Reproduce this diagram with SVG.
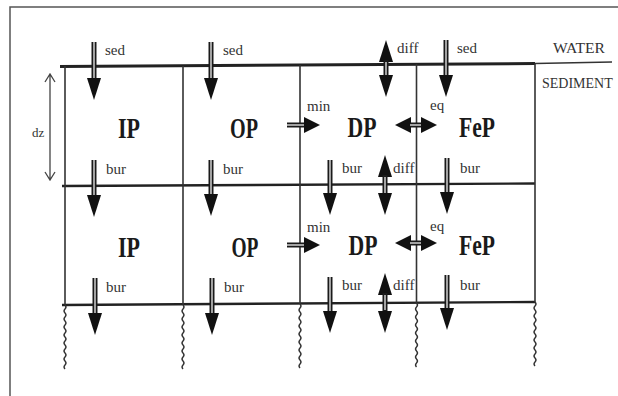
<svg xmlns="http://www.w3.org/2000/svg" xmlns:xlink="http://www.w3.org/1999/xlink" width="618" height="396" viewBox="0 0 618 396">
  <style>
    .frame { fill: none; stroke: #555; stroke-width: 1.5; }
    .grid { fill: none; stroke: #333; stroke-width: 1.6; }
    .thick { fill: none; stroke: #222; stroke-width: 3; }
    .wave { fill: none; stroke: #333; stroke-width: 1.4; }
    .shaft { fill: none; stroke: #1a1a1a; stroke-width: 5; }
    .gap { fill: none; stroke: #fff; stroke-width: 1.2; }
    .head { fill: #111; }
    .big { font-family: "Liberation Serif", "Times New Roman", serif; font-weight: bold; font-size: 30px; fill: #1a1a1a; text-anchor: middle; }
    .small { font-family: "Liberation Serif", "Times New Roman", serif; font-size: 15px; fill: #333; }
    .side { font-family: "Liberation Serif", "Times New Roman", serif; font-size: 15px; fill: #333; }
    .dz { fill: none; stroke: #444; stroke-width: 1.3; }
  </style>
  <defs>
    <!-- arrowhead pointing down, tip at origin -->
    <polygon id="hd" class="head" points="-7,-22 7,-22 0,0"/>
    <!-- short horizontal arrowhead pointing right, tip at origin -->
    <polygon id="hr" class="head" points="-16,-8 -16,8 0,0"/>
    <!-- wavy continuation of a column wall -->
    <path id="wv" class="wave" d="M0,0 q2,2 0,4 q-2,2 0,4 q2,2 0,4 q-2,2 0,4 q2,2 0,4 q-2,2 0,4 q2,2 0,4 q-2,2 0,4 q2,2 0,4 q-2,2 0,4 q2,2 0,4 q-2,2 0,4 q2,2 0,4 q-2,2 0,4 q2,2 0,4 q-2,2 0,4"/>
  </defs>

  <rect width="618" height="396" fill="#fff"/>

  <!-- outer frame (top and left edges) -->
  <path class="frame" d="M618,7 H10 V396"/>

  <!-- water / sediment labels -->
  <text class="side" x="553" y="53" textLength="52" lengthAdjust="spacingAndGlyphs">WATER</text>
  <text class="side" x="542" y="88" style="font-size:14px">SEDIMENT</text>

  <!-- layer grid -->
  <g id="grid">
    <path class="thick" d="M60,66.5 L535,63.5"/>
    <path class="grid" d="M535,63.5 L612,62"/>
    <path class="thick" d="M62,186 L535,183.5" style="stroke-width:2.4"/>
    <path class="thick" d="M62,305 L535,302" style="stroke-width:2.4"/>
    <path class="grid" d="M65,66 V305"/>
    <path class="grid" d="M183,66 V305"/>
    <path class="grid" d="M300,65 V304"/>
    <path class="grid" d="M416.5,64 V303"/>
    <path class="grid" d="M535,63.5 V302"/>
    <use xlink:href="#wv" x="65" y="305"/>
    <use xlink:href="#wv" x="183" y="305"/>
    <use xlink:href="#wv" x="300" y="304"/>
    <use xlink:href="#wv" x="416.5" y="303"/>
    <use xlink:href="#wv" x="535" y="302"/>
  </g>

  <!-- layer thickness -->
  <g id="dz">
    <path class="dz" d="M50,74 V180 M45,82 L50,74 L55,82 M45,172 L50,180 L55,172"/>
    <text class="small" x="32" y="137" style="font-size:13px">dz</text>
  </g>

  <!-- compartments, upper layer -->
  <g id="ip1"><text class="big" x="129" y="138" textLength="22" lengthAdjust="spacingAndGlyphs">IP</text></g>
  <g id="op1"><text class="big" x="244" y="138" textLength="28" lengthAdjust="spacingAndGlyphs">OP</text></g>
  <g id="dp1"><text class="big" x="362" y="137" textLength="29" lengthAdjust="spacingAndGlyphs">DP</text></g>
  <g id="fep1"><text class="big" x="477" y="137" textLength="36" lengthAdjust="spacingAndGlyphs">FeP</text></g>
  <!-- compartments, lower layer -->
  <g id="ip2"><text class="big" x="129" y="257" textLength="22" lengthAdjust="spacingAndGlyphs">IP</text></g>
  <g id="op2"><text class="big" x="245" y="257" textLength="27" lengthAdjust="spacingAndGlyphs">OP</text></g>
  <g id="dp2"><text class="big" x="363" y="255" textLength="29" lengthAdjust="spacingAndGlyphs">DP</text></g>
  <g id="fep2"><text class="big" x="477" y="255" textLength="36" lengthAdjust="spacingAndGlyphs">FeP</text></g>

  <g id="connectors">
    <!-- sedimentation into the top layer -->
    <path class="shaft" d="M94,42 V80"/><path class="gap" d="M94,42 V80"/><use xlink:href="#hd" x="94" y="100"/>
    <text class="small" x="105" y="55">sed</text>
    <path class="shaft" d="M211,42 V80"/><path class="gap" d="M211,42 V80"/><use xlink:href="#hd" x="211" y="100"/>
    <text class="small" x="223" y="55">sed</text>
    <path class="shaft" d="M446,40 V77"/><path class="gap" d="M446,40 V77"/><use xlink:href="#hd" x="446" y="97"/>
    <text class="small" x="457" y="53">sed</text>

    <!-- diffusion across the sediment-water interface -->
    <use xlink:href="#hd" transform="translate(386,40) rotate(180)"/>
    <path class="shaft" d="M386,60 V77"/><path class="gap" d="M386,62 V75"/>
    <use xlink:href="#hd" x="386" y="97"/>
    <text class="small" x="397" y="53">diff</text>

    <!-- mineralisation OP -> DP -->
    <path class="shaft" d="M287,125 H305"/><path class="gap" d="M287,125 H305"/><use xlink:href="#hr" x="320" y="125"/>
    <text class="small" x="307" y="111">min</text>
    <path class="shaft" d="M287,245 H305"/><path class="gap" d="M287,245 H305"/><use xlink:href="#hr" x="320" y="245"/>
    <text class="small" x="307" y="232">min</text>

    <!-- equilibrium DP <-> FeP -->
    <use xlink:href="#hr" transform="translate(395,125) rotate(180)"/>
    <path class="shaft" d="M410,125 H422"/><path class="gap" d="M410,125 H422"/>
    <use xlink:href="#hr" x="437" y="125"/>
    <text class="small" x="430" y="110">eq</text>
    <use xlink:href="#hr" transform="translate(395,243) rotate(180)"/>
    <path class="shaft" d="M410,243 H422"/><path class="gap" d="M410,243 H422"/>
    <use xlink:href="#hr" x="437" y="243"/>
    <text class="small" x="430" y="231">eq</text>

    <!-- burial, upper layer -> lower layer -->
    <path class="shaft" d="M94,160 V196"/><path class="gap" d="M94,160 V196"/><use xlink:href="#hd" x="94" y="217"/>
    <text class="small" x="106" y="174">bur</text>
    <path class="shaft" d="M211,160 V195"/><path class="gap" d="M211,160 V195"/><use xlink:href="#hd" x="211" y="216"/>
    <text class="small" x="223" y="174">bur</text>
    <path class="shaft" d="M330,160 V194"/><path class="gap" d="M330,160 V194"/><use xlink:href="#hd" x="330" y="215"/>
    <text class="small" x="342" y="173">bur</text>
    <path class="shaft" d="M447,158 V193"/><path class="gap" d="M447,158 V193"/><use xlink:href="#hd" x="447" y="214"/>
    <text class="small" x="460" y="173">bur</text>

    <!-- diffusion between layers -->
    <use xlink:href="#hd" transform="translate(385,155) rotate(180)"/>
    <path class="shaft" d="M385,175 V195"/><path class="gap" d="M385,177 V193"/>
    <use xlink:href="#hd" x="385" y="215"/>
    <text class="small" x="393" y="173">diff</text>

    <!-- burial out of the lower layer -->
    <path class="shaft" d="M95,278 V314"/><path class="gap" d="M95,278 V314"/><use xlink:href="#hd" x="95" y="335"/>
    <text class="small" x="106" y="292">bur</text>
    <path class="shaft" d="M212,278 V314"/><path class="gap" d="M212,278 V314"/><use xlink:href="#hd" x="212" y="335"/>
    <text class="small" x="224" y="292">bur</text>
    <path class="shaft" d="M330,277 V312"/><path class="gap" d="M330,277 V312"/><use xlink:href="#hd" x="330" y="333"/>
    <text class="small" x="342" y="290">bur</text>
    <path class="shaft" d="M447,275 V309"/><path class="gap" d="M447,275 V309"/><use xlink:href="#hd" x="447" y="330"/>
    <text class="small" x="460" y="290">bur</text>

    <!-- diffusion below the lower layer -->
    <use xlink:href="#hd" transform="translate(385,273) rotate(180)"/>
    <path class="shaft" d="M385,293 V312"/><path class="gap" d="M385,295 V310"/>
    <use xlink:href="#hd" x="385" y="333"/>
    <text class="small" x="393" y="290">diff</text>
  </g>
</svg>
